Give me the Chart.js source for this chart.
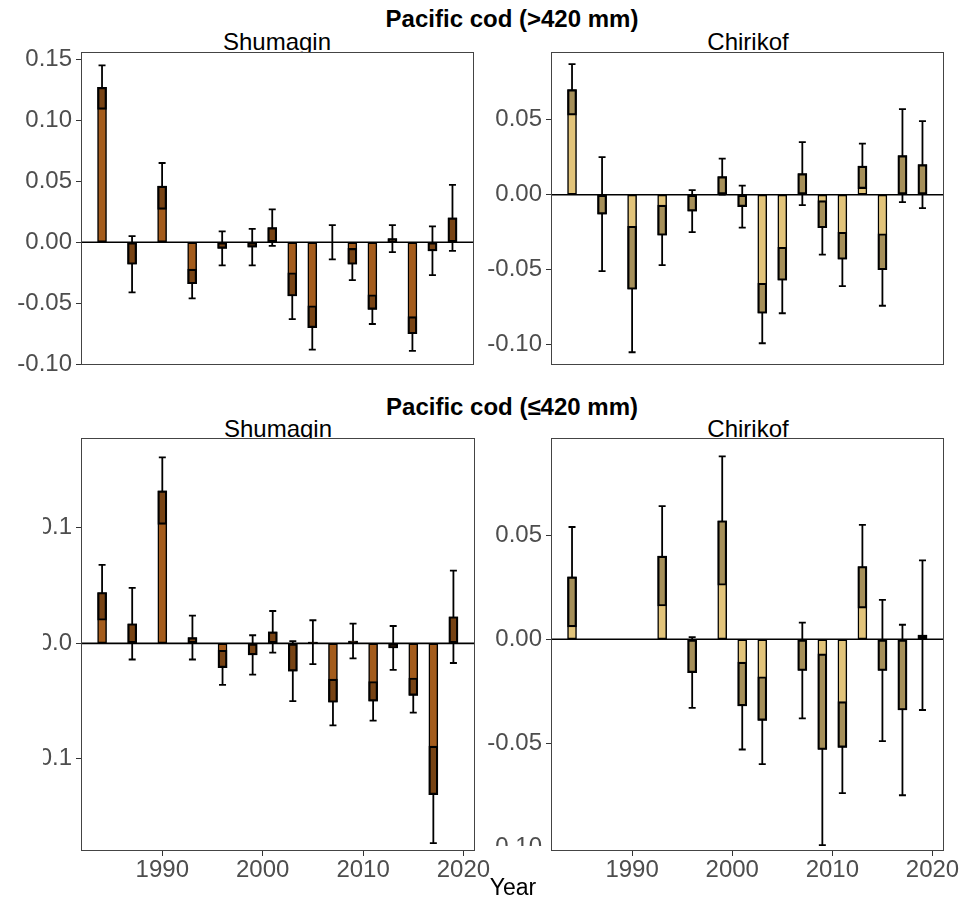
<!DOCTYPE html>
<html>
<head>
<meta charset="utf-8">
<script src="https://cdn.jsdelivr.net/npm/chart.js@4.4.0/dist/chart.umd.min.js"></script>
<style>
  body { margin: 0; background: #fff; }
  #fig { position: relative; width: 961px; height: 899px; overflow: hidden; background: #fff; }
  .lbl { position: absolute; white-space: nowrap; font-family: 'Liberation Sans', Arial, sans-serif;
         line-height: 1; transform: translateX(-50%); color: #000; }
  .main { font-weight: bold; font-size: 24px; }
  .sub { font-size: 24px; }
  canvas { position: absolute; }
</style>
</head>
<body>
<div id="fig">
  <div class="lbl main" style="left:512px; top:7px">Pacific cod (&gt;420 mm)</div>
  <div class="lbl sub" style="left:277px; top:30px">Shumagin</div>
  <div class="lbl sub" style="left:748px; top:30px">Chirikof</div>
  <div class="lbl main" style="left:512px; top:395px">Pacific cod (≤420 mm)</div>
  <div class="lbl sub" style="left:278px; top:417px">Shumagin</div>
  <div class="lbl sub" style="left:748px; top:417px">Chirikof</div>

  <canvas id="tl" width="480" height="340" style="left:0px; top:40px"></canvas>
  <canvas id="tr" width="481" height="340" style="left:480px; top:40px"></canvas>
  <canvas id="bl" width="457" height="469" style="left:43px; top:430px"></canvas>
  <canvas id="br" width="481" height="469" style="left:480px; top:430px"></canvas>

  <div class="lbl sub" style="left:513px; top:876px; font-size:23px">Year</div>
</div>

<script>
// survey years
const years = [1984, 1987, 1990, 1993, 1996, 1999, 2001, 2003, 2005, 2007, 2009, 2011, 2013, 2015, 2017, 2019];
const yearTicks = [1990, 2000, 2010, 2020];

// Pacific cod (>420 mm)
const shumaginLargeMean = [0.127, -0.018, 0.046, -0.034, -0.005, -0.004, 0.012, -0.044, -0.070, 0.000, -0.018, -0.055, 0.003, -0.075, -0.007, 0.020];
const shumaginLargeSE   = [0.018, 0.023, 0.019, 0.012, 0.014, 0.015, 0.015, 0.019, 0.018, 0.014, 0.013, 0.012, 0.011, 0.014, 0.020, 0.027];
const chirikofLargeMean = [0.070, -0.013, -0.063, -0.027, -0.011, 0.012, -0.008, -0.079, -0.057, 0.014, -0.022, -0.043, 0.019, -0.050, 0.026, 0.020];
const chirikofLargeSE   = [0.017, 0.038, 0.042, 0.020, 0.014, 0.012, 0.014, 0.020, 0.022, 0.021, 0.018, 0.018, 0.015, 0.024, 0.031, 0.029];

// Pacific cod (<=420 mm)
const shumaginSmallMean = [0.044, 0.017, 0.132, 0.005, -0.021, -0.010, 0.010, -0.024, 0.001, -0.051, 0.002, -0.050, -0.004, -0.045, -0.131, 0.023];
const shumaginSmallSE   = [0.024, 0.031, 0.029, 0.019, 0.015, 0.017, 0.018, 0.026, 0.019, 0.020, 0.015, 0.017, 0.019, 0.015, 0.042, 0.040];
const chirikofSmallMean = [0.030, null, null, 0.040, -0.016, 0.057, -0.032, -0.039, null, -0.015, -0.053, -0.052, 0.035, -0.015, -0.034, 0.002];
const chirikofSmallSE   = [0.024, null, null, 0.024, 0.017, 0.031, 0.021, 0.021, null, 0.023, 0.046, 0.022, 0.020, 0.034, 0.041, 0.036];

// y axis ticks per panel
const ticksTL = [-0.10, -0.05, 0, 0.05, 0.10, 0.15];
const ticksTR = [-0.10, -0.05, 0, 0.05];
const ticksBL = [-0.1, 0, 0.1];
const ticksBR = [-0.10, -0.05, 0, 0.05];

Chart.defaults.font.family = "'Liberation Sans', Arial, sans-serif";

const SHUMAGIN = '#a45c1c';
const CHIRIKOF = '#e2c47a';

function panel(id, means, ses, cfg) {
    const bars = [];
    const boxes = [];
    years.forEach((yr, i) => {
        const m = means[i];
        if (m === null) return;
        bars.push({x: yr, y: m});
        const inner = m >= 0 ? Math.max(0, m - ses[i]) : Math.min(0, m + ses[i]);
        boxes.push({x: yr, y: [inner, m]});
    });

    const decor = {
        id: 'decor',
        beforeDraw(chart) {
            const {ctx, chartArea: a} = chart;
            ctx.save();
            ctx.fillStyle = '#fff';
            ctx.fillRect(a.left, a.top, a.right - a.left, a.bottom - a.top);
            ctx.restore();
        },
        beforeDatasetsDraw(chart) {
            // error bars sit under the bars
            const {ctx, chartArea: a, scales: {x, y}} = chart;
            ctx.save();
            ctx.beginPath();
            ctx.rect(a.left, a.top, a.right - a.left, a.bottom - a.top);
            ctx.clip();
            ctx.strokeStyle = '#000';
            ctx.lineWidth = 1.8;
            years.forEach((yr, i) => {
                if (means[i] === null) return;
                const px = x.getPixelForValue(yr);
                const hi = y.getPixelForValue(means[i] + ses[i]);
                const lo = y.getPixelForValue(means[i] - ses[i]);
                ctx.beginPath();
                ctx.moveTo(px, hi); ctx.lineTo(px, lo);
                ctx.moveTo(px - 3.5, hi); ctx.lineTo(px + 3.5, hi);
                ctx.moveTo(px - 3.5, lo); ctx.lineTo(px + 3.5, lo);
                ctx.stroke();
            });
            ctx.restore();
        },
        afterDatasetsDraw(chart) {
            const {ctx, chartArea: a, scales: {y}} = chart;
            const y0 = y.getPixelForValue(0);
            ctx.save();
            ctx.strokeStyle = '#000';
            ctx.lineWidth = 1.6;
            ctx.beginPath();
            ctx.moveTo(a.left, y0); ctx.lineTo(a.right, y0);
            ctx.stroke();
            ctx.restore();
        },
        afterDraw(chart) {
            const {ctx, chartArea: a} = chart;
            ctx.save();
            if (cfg.cover) {
                ctx.fillStyle = '#fff';
                ctx.fillRect(0, a.bottom - 5, a.left, 12);
            }
            ctx.strokeStyle = '#444';
            ctx.lineWidth = 1;
            ctx.strokeRect(a.left + 0.5, a.top + 0.5, a.right - a.left - 1, a.bottom - a.top - 1);
            ctx.restore();
        }
    };

    const tickFont = {size: 24};

    new Chart(document.getElementById(id), {
        type: 'bar',
        data: {
            datasets: [{
                data: boxes,
                backgroundColor: 'rgba(0,0,0,0.27)',
                borderColor: '#000',
                borderWidth: 1.5,
                borderSkipped: false,
                barThickness: 9,
                grouped: false,
                order: 0
            }, {
                data: bars,
                backgroundColor: cfg.color,
                borderColor: '#000',
                borderWidth: 1.5,
                borderSkipped: false,
                barThickness: 9,
                grouped: false,
                order: 1
            }]
        },
        options: {
            responsive: false,
            animation: false,
            devicePixelRatio: 1,
            layout: {padding: cfg.pad},
            plugins: {legend: {display: false}, tooltip: {enabled: false}},
            scales: {
                x: {
                    type: 'linear',
                    min: 1981.9,
                    max: 2021.15,
                    offset: false,
                    display: cfg.showX,
                    afterBuildTicks: s => { s.ticks = yearTicks.map(v => ({value: v})); },
                    afterFit: s => {
                        if (cfg.showX) s.height = 30;
                        s.paddingLeft = 0;
                        s.paddingRight = 0;
                    },
                    ticks: {callback: v => String(v), autoSkip: false, maxRotation: 0,
                            color: '#4d4d4d', font: tickFont, padding: 0},
                    grid: {drawOnChartArea: false, offset: false, tickLength: 5, color: '#333'},
                    border: {display: false}
                },
                y: {
                    min: cfg.yMin,
                    max: cfg.yMax,
                    afterBuildTicks: s => { s.ticks = cfg.yTicks.map(v => ({value: v})); },
                    afterFit: s => { s.width = cfg.yWidth; s.paddingTop = 0; s.paddingBottom = 0; },
                    ticks: {callback: v => v.toFixed(cfg.dec), color: '#4d4d4d', font: tickFont, padding: 4},
                    grid: {drawOnChartArea: false, tickLength: 5, color: '#333'},
                    border: {display: false}
                }
            }
        },
        plugins: [decor]
    });
}

panel('tl', shumaginLargeMean, shumaginLargeSE, {
    color: SHUMAGIN, yMin: -0.1006, yMax: 0.156, yTicks: ticksTL, dec: 2, showX: false,
    yWidth: 81, pad: {left: 0, right: 6, top: 12, bottom: 15}
});
panel('tr', chirikofLargeMean, chirikofLargeSE, {
    color: CHIRIKOF, yMin: -0.1135, yMax: 0.0951, yTicks: ticksTR, dec: 2, showX: false,
    yWidth: 71, pad: {left: 0, right: 17, top: 12, bottom: 15}
});
panel('bl', shumaginSmallMean, shumaginSmallSE, {
    color: SHUMAGIN, yMin: -0.1798, yMax: 0.1778, yTicks: ticksBL, dec: 1, showX: true,
    yWidth: 38, pad: {left: 0, right: 25, top: 8, bottom: 18}
});
panel('br', chirikofSmallMean, chirikofSmallSE, {
    color: CHIRIKOF, yMin: -0.1018, yMax: 0.0968, yTicks: ticksBR, dec: 2, showX: true,
    yWidth: 71, pad: {left: 0, right: 17, top: 8, bottom: 18}, cover: true
});
</script>
</body>
</html>
